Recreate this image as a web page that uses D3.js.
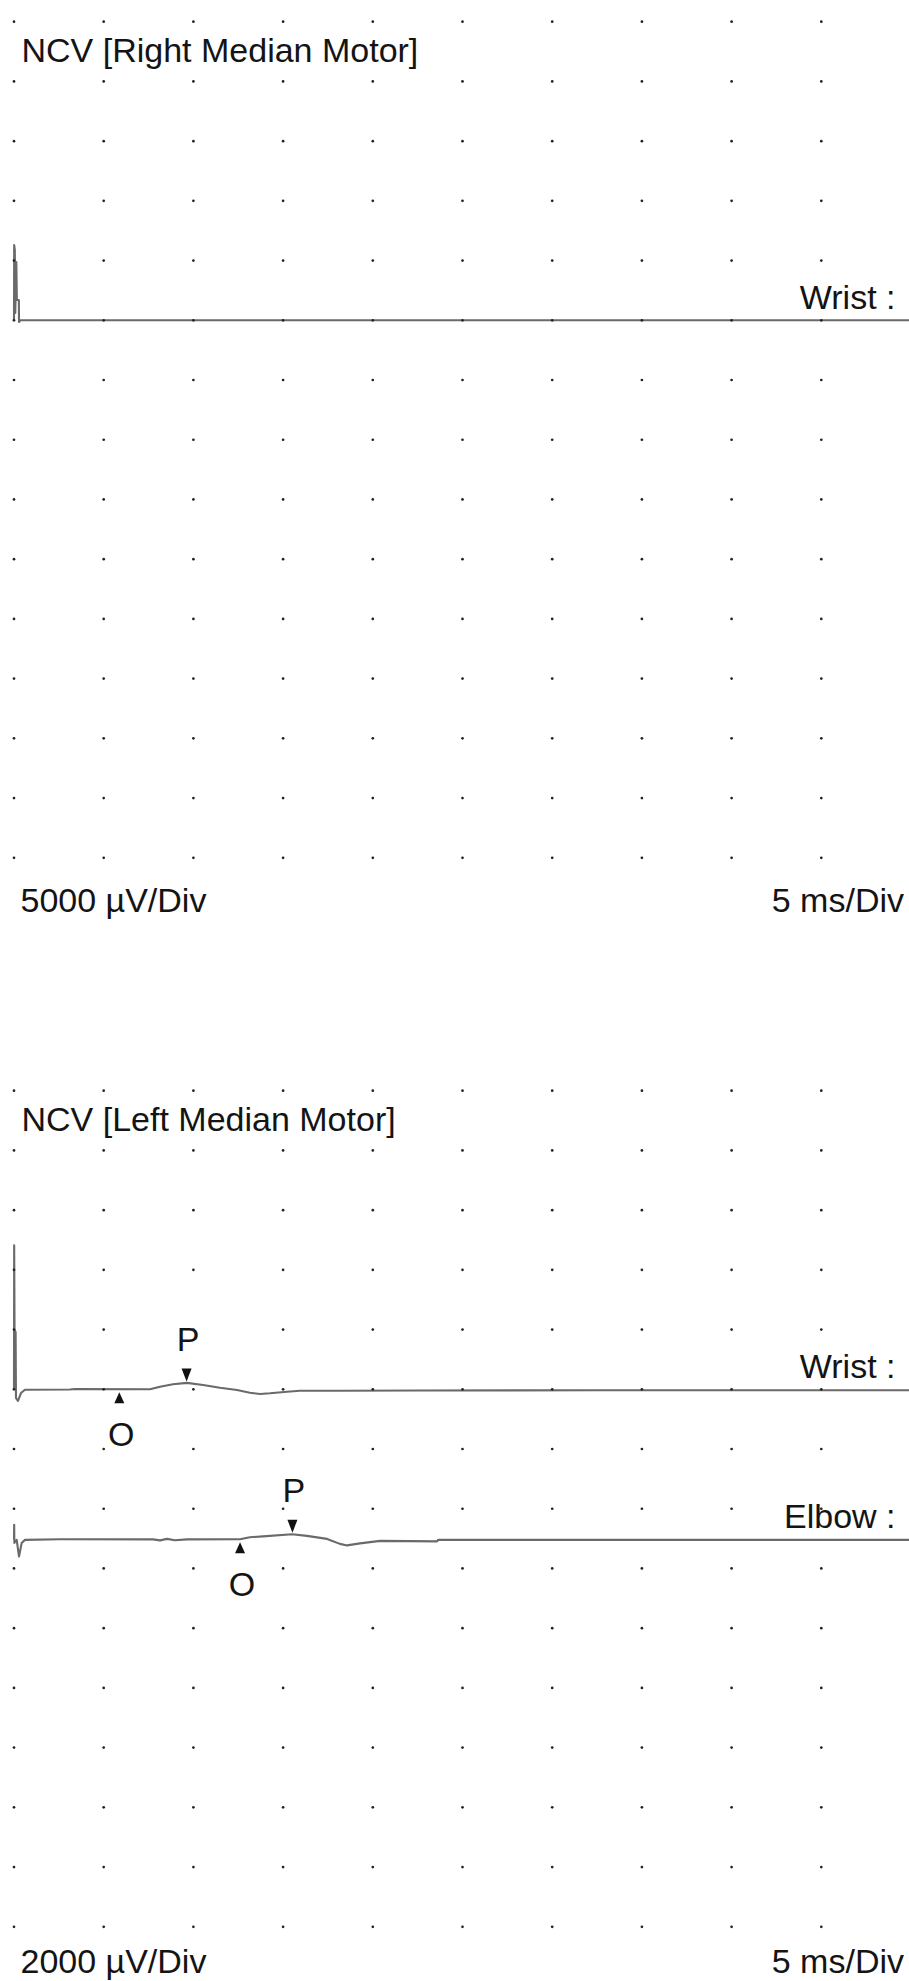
<!DOCTYPE html>
<html>
<head>
<meta charset="utf-8">
<script src="https://cdn.jsdelivr.net/npm/d3@7"></script>
<style>
  html, body { margin: 0; padding: 0; background: #fff; }
  svg { display: block; }
  text { font-family: "Liberation Sans", Arial, sans-serif; fill: #141414; }
</style>
</head>
<body>
<div id="chart"></div>
<script>
// ---------------- DATA ----------------
const panelTitles = ["NCV [Right Median Motor]", "NCV [Left Median Motor]"];
const sensitivityLabels = ["5000 \u00b5V/Div", "2000 \u00b5V/Div"];
const sweepLabels = ["5 ms/Div", "5 ms/Div"];
const sensitivities = [5000, 2000];        // µV per division
const sweepSpeed = 5;                      // ms per division
const traceNames = ["Wrist", "Wrist", "Elbow"];

// traces: [time ms, amplitude µV]
const rightWrist = [
  [0, 0], [0.01, 6300], [0.045, 5890], [0.07, 610], [0.13, 4880], [0.16, 1700],
  [0.27, 1700], [0.28, -140], [0.36, 0], [50, 0]
];
const leftWrist = [
  [0, 0], [0.01, 4820], [0.03, 1990], [0.09, 1920], [0.11, -290], [0.22, -390],
  [0.39, -125], [0.61, -17], [3.12, -7], [3.4, 10], [7.58, 0], [8.14, 87],
  [8.86, 168], [9.64, 215], [10.54, 144], [11.48, 54], [12.43, -23], [13.15, -114],
  [13.71, -157], [14.27, -134], [15.22, -80], [15.94, -47], [18.17, -47],
  [22.6, -40], [32.7, -33], [50, -33]
];
const leftElbow = [
  [0, 0], [0.01, 480], [0.02, -124], [0.15, -23], [0.28, -580], [0.43, -124],
  [0.61, -23], [2.56, 0], [7.75, -7], [8.14, -40], [8.53, 10], [8.97, -34],
  [9.64, -7], [12.6, 0], [13.15, 67], [13.88, 94], [15.5, 168], [16.33, 110],
  [17.45, 10], [18.17, -157], [18.56, -208], [19.29, -141], [20.4, -57],
  [23.58, -74], [23.64, -23], [50, -23]
];
// markers: onset (O) and peak (P) latencies in ms
const leftWristMarkers = [["O", 5.87], ["P", 9.62]];
const leftElbowMarkers = [["O", 12.6], ["P", 15.52]];

// ---------------- LAYOUT ----------------
const W = 909, H = 1981;
const x0 = 14, divW = 89.7, divH = 59.72;
const nCols = 10, nRows = 15;
const panelTops = [21.7, 1090.7];
const captionOffsets = [54, 46];
const panels = [
  { title: panelTitles[0], sens: sensitivities[0], sensLabel: sensitivityLabels[0], sweepLabel: sweepLabels[0],
    traces: [{ name: traceNames[0], data: rightWrist, row: 5, markers: [] }] },
  { title: panelTitles[1], sens: sensitivities[1], sensLabel: sensitivityLabels[1], sweepLabel: sweepLabels[1],
    traces: [
      { name: traceNames[1], data: leftWrist, row: 5, markers: leftWristMarkers },
      { name: traceNames[2], data: leftElbow, row: 7.51, markers: leftElbowMarkers }
    ] }
];

const svg = d3.select("#chart").append("svg").attr("width", W).attr("height", H);

const x = d3.scaleLinear().domain([0, nCols * sweepSpeed]).range([x0, x0 + nCols * divW]);
const colTimes = d3.range(0, nCols * sweepSpeed, sweepSpeed);
const bis = d3.bisector(d => d[0]).left;

panels.forEach((p, pi) => {
  const top = panelTops[pi];
  const rowY = d3.scaleLinear().domain([0, nRows - 1]).range([top, top + (nRows - 1) * divH]);
  const g = svg.append("g");

  // title
  g.append("text").attr("x", 21.5).attr("y", top + 40).attr("font-size", 34).text(p.title);

  // traces
  p.traces.forEach(tr => {
    const y = d3.scaleLinear().domain([0, -p.sens]).range([rowY(tr.row), rowY(tr.row + 1)]);
    const line = d3.line().x(d => x(d[0])).y(d => y(d[1]));
    g.append("path").datum(tr.data).attr("d", line)
      .attr("fill", "none").attr("stroke", "#6a6a6a").attr("stroke-width", 2.1)
      .attr("stroke-linejoin", "round");

    // label
    g.append("text").attr("x", 895.5).attr("y", rowY(tr.row) - 11)
      .attr("text-anchor", "end").attr("font-size", 34).text(tr.name + " :");

    // markers
    const valAt = t => {
      const i = Math.max(1, Math.min(tr.data.length - 1, bis(tr.data, t)));
      const a = tr.data[i - 1], b = tr.data[i];
      return a[1] + (b[1] - a[1]) * (t - a[0]) / (b[0] - a[0]);
    };
    tr.markers.forEach(([type, t]) => {
      const mx = x(t), my = y(valAt(t));
      if (type === "O") {
        const tip = my + 3, base = my + 14;
        g.append("path").attr("d", `M${mx},${tip}L${mx - 5},${base}L${mx + 5},${base}Z`).attr("fill", "#111");
        g.append("text").attr("x", mx + 2).attr("y", tip + 54).attr("text-anchor", "middle")
          .attr("font-size", 34).text(type);
      } else {
        const tip = my - 1.5, base = my - 14.5;
        g.append("path").attr("d", `M${mx},${tip}L${mx - 5},${base}L${mx + 5},${base}Z`).attr("fill", "#111");
        g.append("text").attr("x", mx + 1.5).attr("y", base - 17.5).attr("text-anchor", "middle")
          .attr("font-size", 34).text(type);
      }
    });
  });

  // grid dots
  const rows = d3.range(nRows);
  rows.forEach(r => {
    g.selectAll(null).data(colTimes).enter().append("circle")
      .attr("cx", d => x(d)).attr("cy", rowY(r)).attr("r", 1.35).attr("fill", "#222");
  });

  // captions
  const cy = rowY(nRows - 1) + captionOffsets[pi];
  g.append("text").attr("x", 20.5).attr("y", cy).attr("font-size", 34).text(p.sensLabel);
  g.append("text").attr("x", 904).attr("y", cy).attr("text-anchor", "end")
    .attr("font-size", 34).text(p.sweepLabel);
});
</script>
</body>
</html>
